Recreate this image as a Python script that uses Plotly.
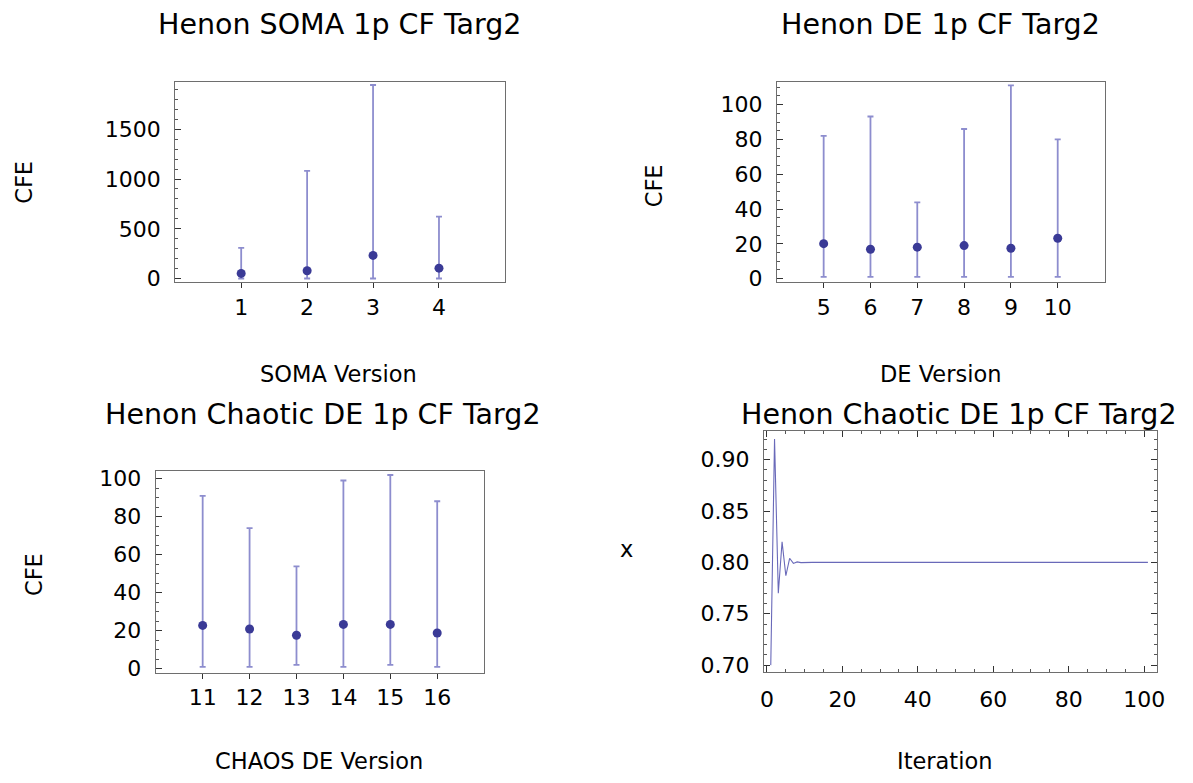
import plotly.graph_objects as go

# --- SOMA versions: mean CFE with min/max range
soma_versions = [1, 2, 3, 4]
soma_mean = [52, 79, 233, 105]
soma_max = [309, 1082, 1944, 622]
soma_min = [1, 1, 1, 1]

# --- DE versions
de_versions = [5, 6, 7, 8, 9, 10]
de_mean = [20.1, 16.9, 18.1, 19.0, 17.5, 23.2]
de_max = [82.1, 93.2, 43.8, 86.0, 111.1, 80.0]
de_min = [1, 1, 1, 1, 1, 1]

# --- Chaotic DE versions
chaos_versions = [11, 12, 13, 14, 15, 16]
chaos_mean = [22.8, 20.9, 17.6, 23.3, 23.3, 18.8]
chaos_max = [90.9, 74.0, 53.8, 99.0, 101.9, 88.1]
chaos_min = [1, 1, 2, 1, 2, 1]

# --- Henon trajectory (x per iteration)
iterations = list(range(1, 102))
x_start = [0.70, 0.92, 0.77, 0.82, 0.787, 0.804, 0.799, 0.8005, 0.7998, 0.8001]
x_tail = [0.80] * 91
x_values = x_start + x_tail

FONT = "DejaVu Sans"
DOT = "rgb(58,58,150)"
BAR = "rgba(80,80,180,0.65)"
FRAME = "#6e6e6e"

W, H = 1193, 783


def px(v):
    return v / W


def py(v):
    return 1 - v / H


def errbars(xs, mean, lo, hi, xa, ya):
    return go.Scatter(
        x=xs, y=mean, mode="markers", xaxis=xa, yaxis=ya,
        marker=dict(color=DOT, size=9),
        error_y=dict(type="data", symmetric=False,
                     array=[h - m for h, m in zip(hi, mean)],
                     arrayminus=[m - l for m, l in zip(mean, lo)],
                     color=BAR, thickness=1.8, width=3),
        showlegend=False,
    )


fig = go.Figure()
fig.add_trace(errbars(soma_versions, soma_mean, soma_min, soma_max, "x", "y"))
fig.add_trace(errbars(de_versions, de_mean, de_min, de_max, "x2", "y2"))
fig.add_trace(errbars(chaos_versions, chaos_mean, chaos_min, chaos_max, "x3", "y3"))
fig.add_trace(go.Scatter(x=iterations, y=x_values, mode="lines", xaxis="x4", yaxis="y4",
                         line=dict(color="rgb(105,105,185)", width=1.1), showlegend=False))

tickfont = dict(family=FONT, size=22, color="black")


def xcat(domain, rng, vals, anchor):
    return dict(domain=domain, range=rng, anchor=anchor, tickmode="array", tickvals=vals,
                ticks="outside", ticklen=5, tickcolor="#333", showline=True, linecolor=FRAME,
                mirror=True, showgrid=False, zeroline=False, tickfont=tickfont,
                ticklabelstandoff=0)


def ynum(domain, rng, dtick, minor, anchor, mirror=True):
    return dict(domain=domain, range=rng, anchor=anchor, dtick=dtick, tick0=0,
                ticks="inside", ticklen=6, tickcolor="#333", showline=True, linecolor=FRAME,
                mirror=mirror, showgrid=False, zeroline=False, tickfont=tickfont,
                minor=dict(ticks="inside", ticklen=3, dtick=minor, tickcolor="#555", showgrid=False),
                ticklabelstandoff=9)


fig.update_layout(
    width=W, height=H, margin=dict(l=0, r=0, t=0, b=0),
    paper_bgcolor="white", plot_bgcolor="white",
    xaxis=xcat([px(173), px(506)], [0, 5], soma_versions, "y"),
    yaxis=ynum([py(283), py(79)], [-37, 1977], 500, 100, "x"),
    xaxis2=xcat([px(780.7), px(1111.7)], [4, 11], de_versions, "y2"),
    yaxis2=ynum([py(283), py(79)], [-2.1, 113.2], 20, 5, "x2"),
    xaxis3=xcat([px(153.3), px(485)], [10, 17], chaos_versions, "y3"),
    yaxis3=ynum([py(680), py(474.7)], [-2.1, 104.1], 20, 5, "x3"),
    xaxis4=dict(domain=[px(767.7), px(1164.3)], range=[-0.8, 103.3], anchor="y4",
                dtick=20, tick0=0, ticks="inside", ticklen=6, tickcolor="#333",
                showline=True, linecolor=FRAME, mirror="ticks", showgrid=False, zeroline=False,
                tickfont=tickfont, ticklabelstandoff=8,
                minor=dict(ticks="inside", ticklen=3, dtick=5, tickcolor="#555", showgrid=False)),
    yaxis4=dict(domain=[py(679.3), py(434.7)], range=[0.6933, 0.9274], anchor="x4",
                dtick=0.05, tick0=0.7, tickformat=".2f", ticks="inside", ticklen=6, tickcolor="#333",
                showline=True, linecolor=FRAME, mirror="ticks", showgrid=False, zeroline=False,
                tickfont=tickfont, ticklabelstandoff=9,
                minor=dict(ticks="inside", ticklen=3, dtick=0.01, tickcolor="#555", showgrid=False)),
)

labels = [
    ("Henon SOMA 1p CF Targ2", 339.5, 21, 28.5, 0),
    ("Henon DE 1p CF Targ2", 946, 21, 28.5, 0),
    ("Henon Chaotic DE 1p CF Targ2", 322.5, 417, 28.5, 0),
    ("Henon Chaotic DE 1p CF Targ2", 965, 417, 28.5, 0),
    ("SOMA Version", 338, 376, 22.5, 0),
    ("DE Version", 946, 376, 22.5, 0),
    ("CHAOS DE Version", 318, 770, 22.5, 0),
    ("Iteration", 950, 770, 22.5, 0),
    ("CFE", 20, 181, 22.5, -90),
    ("CFE", 657, 185, 22.5, -90),
    ("CFE", 31, 580, 22.5, -90),
    ("x", 629, 554, 22.5, 0),
]
for text, lx, ly, size, angle in labels:
    fig.add_annotation(text=text, x=px(lx), y=py(ly), xref="paper", yref="paper",
                       xanchor="center", yanchor="middle", showarrow=False, textangle=angle,
                       font=dict(family=FONT, size=size, color="black"))

fig.write_html("out.html")
